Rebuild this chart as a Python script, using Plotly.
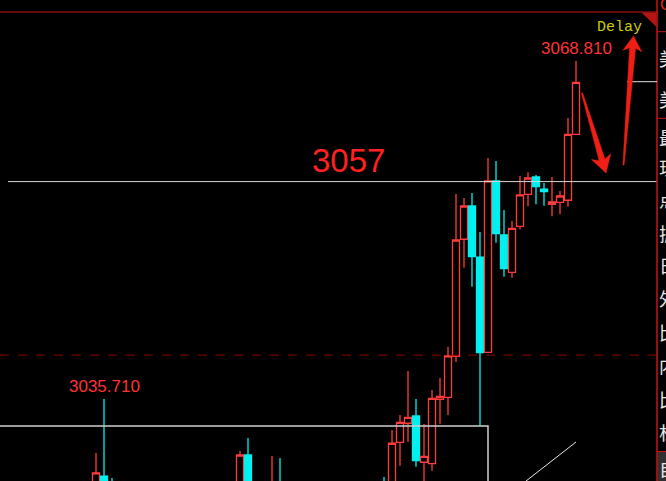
import plotly.graph_objects as go
import math

# ---- data (bar index, OHLC) ----
bar_idx = [0, 1, 2, 18, 19, 22, 23, 36, 37, 38, 39, 40, 41, 42, 43, 44, 45, 46, 47, 48,
           49, 50, 51, 52, 53, 54, 55, 56, 57, 58, 59, 60]
opens = [3026.5, 3028.16, 3027.3, 3026.5, 3030.22, 3026.5, 3027.3, 3027.4, 3027.2, 3031.46,
         3033.33, 3034.04, 3029.51, 3029.37, 3035.68, 3035.87, 3039.89, 3051.35, 3054.61, 3049.61,
         3040.28, 3057.06, 3051.77, 3048.10, 3052.62, 3055.75, 3057.45, 3056.27, 3054.77, 3054.97,
         3055.17, 3061.63]
highs = [3030.42, 3035.71, 3027.97, 3030.61, 3031.89, 3030.12, 3029.93, 3028.07, 3032.67, 3034.14,
         3038.45, 3035.71, 3033.26, 3036.59, 3037.76, 3040.83, 3055.78, 3055.39, 3055.88, 3052.06,
         3059.31, 3059.02, 3054.22, 3053.14, 3057.55, 3057.91, 3057.64, 3056.86, 3057.45, 3056.08,
         3063.23, 3068.81]
lows = [3025.8, 3025.5, 3025.5, 3026.0, 3026.0, 3026.0, 3026.0, 3026.2, 3026.8, 3029.17,
        3031.52, 3029.07, 3027.0, 3028.68, 3033.29, 3034.14, 3039.33, 3048.57, 3046.70, 3033.06,
        3040.20, 3051.01, 3047.68, 3047.59, 3052.33, 3054.58, 3054.77, 3054.64, 3053.60, 3053.80,
        3054.54, 3061.60]
closes = [3028.46, 3026.0, 3026.2, 3030.22, 3026.8, 3027.2, 3026.5, 3026.6, 3031.37, 3033.42,
          3033.91, 3029.66, 3030.09, 3035.77, 3035.97, 3039.92, 3051.28, 3054.61, 3049.64, 3040.24,
          3057.06, 3051.90, 3048.47, 3052.42, 3055.69, 3057.35, 3056.50, 3056.01, 3055.00, 3055.59,
          3061.63, 3066.72]

level_price = 3057
level_label = "3057"
dash_level = 3040
high_label = "3068.810"
high_idx = 60
low_label = "3035.710"
low_idx = 1
box_top = 3033.06
box_right = 49
trend_x = [53.75, 60]
trend_y = [3027.67, 3031.49]
side_chars = ["美", "美", "最", "现", "点", "振", "日", "外", "比", "内", "比", "杠", "自"]
side_y = [58, 99, 137, 167, 199, 233, 265, 298, 332, 365, 399, 432, 468]

W, H = 666, 481
RED = "#ff3c3c"
CYAN = "#00f0f0"


def px(x):
    return x / W


def py(y):
    return 1 - y / H


fig = go.Figure()
fig.add_trace(go.Candlestick(
    x=bar_idx, open=opens, high=highs, low=lows, close=closes,
    increasing=dict(line=dict(color=RED, width=1.3), fillcolor="black"),
    decreasing=dict(line=dict(color=CYAN, width=1.3), fillcolor=CYAN),
    whiskerwidth=0, hoverinfo="skip", showlegend=False,
))

shapes = []
shapes.append(dict(type="line", xref="paper", yref="y", x0=px(8), x1=px(657),
                   y0=level_price, y1=level_price, line=dict(color="#d8d8d8", width=1)))
shapes.append(dict(type="line", xref="paper", yref="y", x0=0, x1=px(657),
                   y0=dash_level, y1=dash_level, line=dict(color="#8b0000", width=1, dash="dash")))
shapes.append(dict(type="rect", xref="x", yref="y", x0=-13, x1=box_right,
                   y0=3020, y1=box_top, line=dict(color="#d0d0d0", width=1.5)))
shapes.append(dict(type="line", xref="x", yref="y", x0=trend_x[0], x1=trend_x[1],
                   y0=trend_y[0], y1=trend_y[1], line=dict(color="#e8e8e8", width=1)))
shapes.append(dict(type="line", xref="paper", yref="paper", x0=0, x1=px(657),
                   y0=py(12), y1=py(12), line=dict(color="#c81414", width=1)))
shapes.append(dict(type="path", xref="paper", yref="paper",
                   path=f"M {px(641.5)} {py(12.5)} L {px(656.5)} {py(12.5)} L {px(656.5)} {py(27)} Z",
                   fillcolor="#b41414", line=dict(width=0)))
shapes.append(dict(type="rect", xref="paper", yref="paper", x0=px(657), x1=1, y0=0, y1=1,
                   fillcolor="black", line=dict(width=0), layer="above"))
shapes.append(dict(type="rect", xref="paper", yref="paper", x0=px(657.5), x1=1.01, y0=0,
                   y1=py(451.5), fillcolor="#303030", line=dict(width=0), layer="above"))
shapes.append(dict(type="line", xref="paper", yref="paper", x0=px(657), x1=px(657), y0=0, y1=1,
                   line=dict(color="#c81414", width=1.5), layer="above"))
for yy in (31.7, 118.3, 451.5):
    shapes.append(dict(type="line", xref="paper", yref="paper", x0=px(657), x1=1, y0=py(yy),
                       y1=py(yy), line=dict(color="#c81414", width=1), layer="above"))
shapes.append(dict(type="line", xref="paper", yref="paper", x0=px(627), x1=px(657),
                   y0=py(81.7), y1=py(81.7), line=dict(color="#e0e0e0", width=1)))


def arrow(tail, tip, head_len, head_w, w_tail, w_head):
    dx, dy = tip[0] - tail[0], tip[1] - tail[1]
    L = math.hypot(dx, dy)
    ux, uy = dx / L, dy / L
    nx, ny = -uy, ux

    def pt(a, b):
        return (tip[0] + ux * a + nx * b, tip[1] + uy * a + ny * b)

    pts = [
        (tail[0] + nx * w_tail, tail[1] + ny * w_tail),
        pt(-head_len * 0.8, w_head),
        pt(-head_len, head_w),
        tip,
        pt(-head_len, -head_w),
        pt(-head_len * 0.8, -w_head),
        (tail[0] - nx * w_tail, tail[1] - ny * w_tail),
    ]
    d = "M " + " L ".join(f"{px(x)} {py(y)}" for x, y in pts) + " Z"
    return dict(type="path", xref="paper", yref="paper", path=d,
                fillcolor="#f01e14", line=dict(color="#f01e14", width=0.5))


shapes.append(arrow((582, 93), (606, 173), 17, 10, 0.6, 3))
shapes.append(arrow((623.5, 165), (633.5, 36), 15, 9.5, 0.6, 3))

annotations = [
    dict(x=31.6, y=level_price, xref="x", yref="y", text=level_label, showarrow=False,
         yanchor="bottom", yshift=1, font=dict(family="Liberation Sans, Arial", size=33, color="#ff2020")),
    dict(x=high_idx, y=highs[bar_idx.index(high_idx)], xref="x", yref="y", text=high_label,
         showarrow=False, yanchor="bottom", yshift=1,
         font=dict(family="Liberation Sans, Arial", size=17, color="#ff3232")),
    dict(x=low_idx, y=highs[bar_idx.index(low_idx)], xref="x", yref="y", text=low_label,
         showarrow=False, yanchor="bottom", yshift=1,
         font=dict(family="Liberation Sans, Arial", size=17, color="#ff3232")),
    dict(x=px(619), y=py(27), xref="paper", yref="paper", text="Delay", showarrow=False,
         xanchor="center", yanchor="middle",
         font=dict(family="Liberation Mono, Courier New, monospace", size=15, color="#cccc00")),
    dict(x=px(658), y=py(4), xref="paper", yref="paper", text="C", showarrow=False,
         xanchor="left", yanchor="middle",
         font=dict(family="Liberation Sans", size=16, color="#e02020")),
]
for ch, yy in zip(side_chars, side_y):
    annotations.append(dict(x=px(657), y=py(yy), xref="paper", yref="paper", text=ch,
                            showarrow=False, xanchor="left", yanchor="middle",
                            font=dict(family="Noto Sans CJK SC", size=18, color="#e6e6e6")))

fig.update_layout(
    width=W, height=H,
    margin=dict(l=0, r=0, t=0, b=0),
    paper_bgcolor="black", plot_bgcolor="black",
    xaxis=dict(range=[-12, (W - 96) / 8], visible=False, rangeslider=dict(visible=False),
               fixedrange=True),
    yaxis=dict(range=[3027.673, 3074.785], visible=False, fixedrange=True),
    shapes=shapes, annotations=annotations,
    boxgap=0.12, boxgroupgap=0,
    showlegend=False,
)

fig.write_html("out.html", config={"displayModeBar": False},
               post_script="document.body.style.margin='0';document.body.style.overflow='hidden';")
